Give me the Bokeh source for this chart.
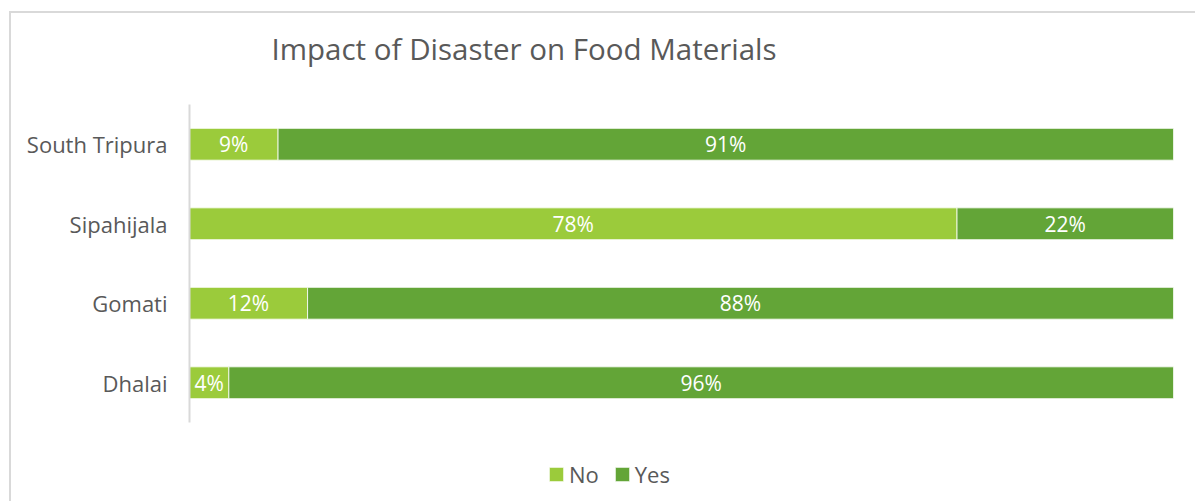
from bokeh.plotting import figure
from bokeh.models import (ColumnDataSource, Range1d, LabelSet, Label, Legend, LegendItem, FixedTicker)
from bokeh.core.properties import value
from bokeh.embed import file_html
from bokeh.resources import INLINE

districts = ["South Tripura", "Sipahijala", "Gomati", "Dhalai"]
no_vals = [0.09, 0.78, 0.12, 0.04]
yes_vals = [0.91, 0.22, 0.88, 0.96]
series = ["No", "Yes"]
colors = ["#9BCB3B", "#63A537"]
title_text = "Impact of Disaster on Food Materials"

FONT = "Open Sans"
OX, OY = 11, 13  # canvas origin inside the bordered host

# category slots: first district on top
slots = list(range(len(districts), 0, -1))

src = ColumnDataSource(dict(district=districts, slot=slots, No=no_vals, Yes=yes_vals))

p = figure(width=1186, height=490, output_backend="svg", toolbar_location=None,
           y_range=Range1d(-0.519, 5.645), x_range=Range1d(0, 1), x_axis_type=None,
           min_border_left=189 - OX, min_border_right=24, min_border_top=0, min_border_bottom=0)
p.margin = (11, 0, 0, 9)
p.styles = {"border-top": "2px solid #d9d9d9", "border-left": "2px solid #d9d9d9"}
p.outline_line_color = None
p.ygrid.visible = False
p.xgrid.visible = False
p.background_fill_color = "white"
p.border_fill_color = "white"

renderers = p.hbar_stack(series, y="slot", height=0.4, source=src, color=colors,
                         line_color="white", line_width=0.8)

lab_no = dict(y=slots, x=[v / 2 for v in no_vals], t=[f"{round(v*100)}%" for v in no_vals])
lab_yes = dict(y=slots, x=[n + v / 2 for n, v in zip(no_vals, yes_vals)], t=[f"{round(v*100)}%" for v in yes_vals])
for d in (lab_no, lab_yes):
    p.add_layout(LabelSet(x="x", y="y", text="t", source=ColumnDataSource(d), text_align="center",
                          text_baseline="middle", text_color="white", text_font=value(FONT),
                          text_font_size="21px"))

ax = p.yaxis[0]
ax.ticker = FixedTicker(ticks=slots)
ax.major_label_overrides = {s: d for s, d in zip(slots, districts)}
ax.bounds = (min(slots) - 0.5, max(slots) + 0.5)
ax.axis_line_color = "#d9d9d9"
ax.axis_line_width = 2
ax.major_tick_line_color = None
ax.minor_tick_line_color = None
ax.major_tick_out = 0
ax.major_tick_in = 0
ax.major_label_standoff = 22
ax.major_label_text_font = FONT
ax.major_label_text_font_size = "22px"
ax.major_label_text_color = "#595959"

# title inside the (full-height) frame, anchored at the left of the value axis
p.add_layout(Label(x=0, y=5.205, x_offset=82, text=title_text, text_font=FONT,
                   text_font_size="29.5px", text_color="#595959", text_baseline="alphabetic"))

legend = Legend(items=[LegendItem(label=s, renderers=[r]) for s, r in zip(series, renderers)],
                orientation="horizontal", location=(358, 14), border_line_color=None,
                background_fill_alpha=0, label_text_font=FONT, label_text_font_size="22px",
                label_text_color="#595959", glyph_width=18, glyph_height=18, spacing=14,
                label_standoff=4, padding=0, margin=0)
p.add_layout(legend, "center")

open("out.html", "w").write(file_html(p, INLINE))
